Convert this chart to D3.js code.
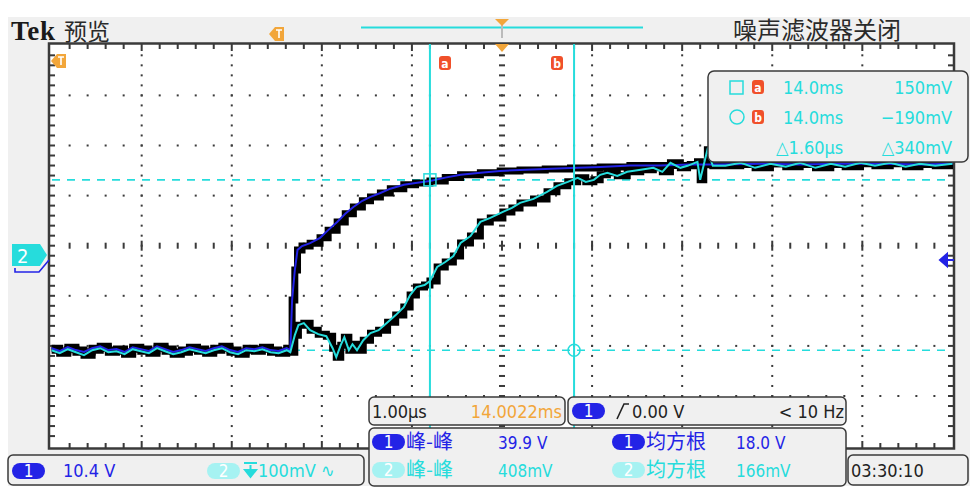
<!DOCTYPE html>
<html>
<head>
<meta charset="utf-8">
<script src="https://cdn.jsdelivr.net/npm/d3@7"></script>
<style>
  body { margin: 0; background: #fff; }
  text { font-family: "Liberation Sans Narrow", "DejaVu Sans Condensed", "Liberation Sans", sans-serif; }
  .cjk { font-family: "Noto Sans CJK SC", sans-serif; }
</style>
</head>
<body>
<svg id="scope" width="970" height="494"></svg>
<script>
// ---- data (time in µs from trigger, ch1 in V, ch2 in mV) ----
const baseTimes = [-5.00, -4.91, -4.82, -4.73, -4.64, -4.55, -4.46, -4.37, -4.28, -4.19,
  -4.10, -4.01, -3.92, -3.83, -3.74, -3.65, -3.56, -3.47, -3.38, -3.29,
  -3.20, -3.11, -3.02, -2.93, -2.84, -2.75, -2.66, -2.57, -2.48, -2.39];
const ch1Base = [-18.3, -18.9, -18.1, -18.7, -19.1, -18.3, -17.9, -18.7, -18.5, -19.1,
  -18.1, -18.5, -18.9, -17.9, -18.5, -19.1, -18.7, -18.1, -18.5, -18.9,
  -18.3, -17.9, -18.7, -19.1, -18.3, -18.5, -18.1, -18.7, -18.9, -18.3];
const ch2Base = [-190, -196, -188, -194, -200, -190, -186, -194, -192, -198,
  -188, -192, -196, -186, -192, -198, -194, -188, -192, -196,
  -190, -186, -194, -198, -190, -192, -188, -194, -196, -190];
const ch1Edge = [[-2.35, -18.7], [-2.33, -8.3], [-2.30, -2.1], [-2.27, 2.1], [-2.22, 2.9],
  [-2.13, 3.5], [-2.02, 4.6], [-1.93, 6.2], [-1.83, 7.9], [-1.74, 9.6], [-1.65, 11.0],
  [-1.55, 12.3], [-1.46, 13.1], [-1.35, 13.9], [-1.24, 14.8], [-1.09, 15.6], [-0.96, 16.0],
  [-0.80, 16.4], [-0.63, 17.1], [-0.46, 17.7], [-0.24, 18.1], [-0.02, 18.5], [0.20, 18.7],
  [0.48, 18.9], [0.76, 19.1], [1.09, 19.3], [1.42, 19.6], [1.76, 19.6], [2.09, 19.8],
  [2.42, 19.8], [2.87, 20.0], [3.31, 19.8], [3.76, 20.0], [4.20, 20.0], [4.64, 19.8], [5.00, 20.0]];
const ch2Edge = [[-2.35, -194], [-2.30, -160], [-2.26, -140], [-2.20, -136], [-2.13, -150],
  [-2.04, -158], [-1.95, -162], [-1.88, -186], [-1.84, -204], [-1.79, -180], [-1.75, -164],
  [-1.70, -190], [-1.66, -178], [-1.61, -190], [-1.54, -170], [-1.46, -156], [-1.37, -150],
  [-1.27, -134], [-1.18, -120], [-1.09, -104], [-1.02, -80], [-0.95, -64], [-0.86, -60],
  [-0.80, -52], [-0.72, -24], [-0.63, -14], [-0.54, -2], [-0.46, 24], [-0.35, 38],
  [-0.24, 66], [-0.13, 74], [0.01, 86], [0.11, 94], [0.20, 104], [0.35, 112], [0.50, 126],
  [0.61, 138], [0.73, 146], [0.84, 154], [0.93, 146], [1.02, 150], [1.09, 160], [1.17, 164],
  [1.28, 158], [1.39, 166], [1.54, 170], [1.68, 174], [1.78, 166], [1.87, 184], [1.98, 174],
  [2.06, 178], [2.17, 186], [2.20, 150], [2.24, 180], [2.28, 210], [2.34, 178], [2.48, 178],
  [2.65, 184], [2.81, 174], [2.98, 182], [3.15, 176], [3.31, 184], [3.48, 174], [3.65, 182],
  [3.81, 176], [3.98, 184], [4.14, 178], [4.31, 184], [4.48, 176], [4.64, 182], [4.81, 178], [5.00, 182]];
const cursorTimes = [-0.8, 0.8];
const cursorLevels = [150, -190];
const readoutTimes = ["14.0ms", "14.0ms", "\u25B31.60\u00B5s"];
const readoutLevels = ["150mV", "\u2212190mV", "\u25B3340mV"];
const measureNames = ["峰-峰", "均方根"];
const ch1Measures = ["39.9 V", "18.0 V"];
const ch2Measures = ["408mV", "166mV"];

const blue = "#2323e6", cyan = "#26dcdc", pale = "#a6f2f2", orange = "#f2a63a",
      red = "#f0502a", ink = "#3a3a3a", panel = "#f0f0f0";

const svg = d3.select("#scope");

// time and division scales
const x = d3.scaleLinear().domain([-5, 5]).range([51.6, 952.4]);
const yDiv = d3.scaleLinear().domain([-4, 4]).range([446.1, 45.3]);
const y1 = d3.scaleLinear().domain([0, 10.4]).range([260, 260 - 50.1]);
const y2 = d3.scaleLinear().domain([0, 100]).range([255, 255 - 50.1]);

// screen background
svg.append("rect").attr("x", 8).attr("y", 17).attr("width", 962).attr("height", 469).attr("fill", panel);
svg.append("rect").attr("x", 49).attr("y", 43.5).attr("width", 905).attr("height", 405).attr("fill", "#fff");

// graticule
const grid = svg.append("g").attr("fill", ink);
const subX = d3.range(1, 50).map(i => -5 + i / 5);
const subY = d3.range(1, 40).map(j => -4 + j / 5);
const isMajor = d => Math.abs(d - Math.round(d)) < 1e-6;
[-4, -3, -2, -1, 1, 2, 3, 4].forEach(k => {
  grid.selectAll(null).data(subY).join("rect")
    .attr("x", x(k) - 1).attr("y", d => yDiv(d) - 1).attr("width", 2).attr("height", 2);
});
[-3, -2, -1, 1, 2, 3].forEach(k => {
  grid.selectAll(null).data(subX).join("rect")
    .attr("x", d => x(d) - 1).attr("y", yDiv(k) - 1).attr("width", 2).attr("height", 2);
});
// centre cross ticks
grid.selectAll(null).data(subX).join("rect")
  .attr("x", d => x(d) - 1).attr("y", d => yDiv(0) - (isMajor(d) ? 5 : 3))
  .attr("width", 2).attr("height", d => isMajor(d) ? 10 : 6);
grid.selectAll(null).data(subY).join("rect")
  .attr("x", x(0) - 3).attr("y", d => yDiv(d) - 1).attr("width", 6).attr("height", 2);
// border ticks
grid.selectAll(null).data(subX).join("rect")
  .attr("x", d => x(d) - 1).attr("y", 44).attr("width", 2).attr("height", d => isMajor(d) ? 7 : 5);
grid.selectAll(null).data(subX).join("rect")
  .attr("x", d => x(d) - 1).attr("y", d => isMajor(d) ? 441 : 443).attr("width", 2).attr("height", d => isMajor(d) ? 7 : 5);
grid.selectAll(null).data(subY).join("rect")
  .attr("x", 50).attr("y", d => yDiv(d) - 1).attr("width", 5).attr("height", 2);
grid.selectAll(null).data(subY).join("rect")
  .attr("x", 948).attr("y", d => yDiv(d) - 1).attr("width", 5).attr("height", 2);
svg.append("rect").attr("x", 49).attr("y", 43.5).attr("width", 905).attr("height", 405)
  .attr("fill", "none").attr("stroke", ink).attr("stroke-width", 2.5);

// cursors
svg.append("g").selectAll("line").data(cursorLevels).join("line")
  .attr("x1", 52).attr("x2", 952).attr("y1", d => y2(d)).attr("y2", d => y2(d))
  .attr("stroke", cyan).attr("stroke-width", 1.6).attr("stroke-dasharray", "8,7");

// traces
svg.append("clipPath").attr("id", "screen").append("rect")
  .attr("x", 50).attr("y", 44).attr("width", 903).attr("height", 404);
const traces = svg.append("g").attr("clip-path", "url(#screen)").attr("fill", "none")
  .attr("stroke-linejoin", "miter");
const ch1 = baseTimes.map((t, i) => [t, ch1Base[i]]).concat(ch1Edge);
const ch2 = baseTimes.map((t, i) => [t, ch2Base[i]]).concat(ch2Edge);
const line1 = d3.line().x(d => x(d[0])).y(d => y1(d[1])).curve(d3.curveStepAfter);
const line2 = d3.line().x(d => x(d[0])).y(d => y2(d[1])).curve(d3.curveStepAfter);
const thin1 = d3.line().x(d => x(d[0])).y(d => y1(d[1]));
const thin2 = d3.line().x(d => x(d[0])).y(d => y2(d[1]));
traces.append("path").attr("d", line1(ch1)).attr("stroke", "#000").attr("stroke-width", 7);
traces.append("path").attr("d", line2(ch2)).attr("stroke", "#000").attr("stroke-width", 7);
traces.append("path").attr("d", thin1(ch1)).attr("stroke", blue).attr("stroke-width", 2);
traces.append("path").attr("d", thin2(ch2)).attr("stroke", cyan).attr("stroke-width", 2);

svg.append("g").selectAll("line").data(cursorTimes).join("line")
  .attr("x1", d => x(d)).attr("x2", d => x(d)).attr("y1", 44).attr("y2", 448)
  .attr("stroke", cyan).attr("stroke-width", 2);
svg.append("rect").attr("x", x(cursorTimes[0]) - 6).attr("y", y2(cursorLevels[0]) - 6)
  .attr("width", 12).attr("height", 12).attr("fill", "none").attr("stroke", cyan).attr("stroke-width", 1.5);
svg.append("circle").attr("cx", x(cursorTimes[1])).attr("cy", y2(cursorLevels[1])).attr("r", 6)
  .attr("fill", "none").attr("stroke", cyan).attr("stroke-width", 1.5);

// cursor tags a / b
function tag(g, cx, cy, letter) {
  g.append("rect").attr("x", cx - 6).attr("y", cy - 7).attr("width", 12).attr("height", 14)
    .attr("rx", 3).attr("fill", red);
  g.append("text").attr("x", cx).attr("y", cy + 4.5).attr("text-anchor", "middle")
    .attr("font-size", 12).attr("font-weight", "bold").attr("fill", "#fff").text(letter);
}
tag(svg, 445, 63, "a");
tag(svg, 557, 63, "b");

// trigger markers
svg.append("path").attr("d", `M${x(0) - 7},44 L${x(0) + 7},44 L${x(0)},52 Z`).attr("fill", orange);
svg.append("line").attr("x1", 361).attr("x2", 643).attr("y1", 27.5).attr("y2", 27.5)
  .attr("stroke", cyan).attr("stroke-width", 2);
svg.append("line").attr("x1", x(0)).attr("x2", x(0)).attr("y1", 22).attr("y2", 38)
  .attr("stroke", "#bbb").attr("stroke-width", 2);
svg.append("path").attr("d", `M${x(0) - 7},19 L${x(0) + 7},19 L${x(0)},26 Z`).attr("fill", orange);
function flag(g, fx, fy) {
  g.append("path").attr("d", `M${fx},${fy} l6,-7 h9 v14 h-9 Z`).attr("fill", orange);
  g.append("path").attr("d", `M${fx + 7},${fy - 4} h6 M${fx + 10},${fy - 4} v8`)
    .attr("stroke", "#fff").attr("stroke-width", 1.6);
}
flag(svg, 269, 34);
flag(svg, 51, 61);

// channel markers
svg.append("path").attr("d", "M12,244 H40 L47,255 L40,266 H12 Z").attr("fill", cyan);
svg.append("text").attr("x", 17).attr("y", 263).attr("font-size", 20).attr("fill", "#fff").text("2");
svg.append("path").attr("d", "M15,268 V272 H39 L49,260").attr("fill", "none")
  .attr("stroke", blue).attr("stroke-width", 1.6);
svg.append("path").attr("d", "M940,260 L947,254 L947,266 Z M945,260 H954").attr("fill", blue)
  .attr("stroke", blue).attr("stroke-width", 2);

// header texts
svg.append("text").attr("x", 11).attr("y", 40).attr("font-size", 27).attr("font-weight", "bold")
  .attr("textLength", 44).style("font-family", "'Liberation Serif', 'DejaVu Serif', serif")
  .attr("fill", "#1a1a1a").text("Tek");
svg.append("text").attr("class", "cjk").attr("x", 64).attr("y", 40).attr("font-size", 23)
  .attr("fill", "#2a2a2a").text("预览");
svg.append("text").attr("class", "cjk").attr("x", 733).attr("y", 39).attr("font-size", 24)
  .attr("fill", "#2a2a2a").text("噪声滤波器关闭");

// cursor readout box
const box = svg.append("g");
box.append("rect").attr("x", 708).attr("y", 71).attr("width", 260).attr("height", 91).attr("rx", 6)
  .attr("fill", panel).attr("stroke", ink).attr("stroke-width", 1.5);
box.append("rect").attr("x", 730).attr("y", 81).attr("width", 13).attr("height", 13)
  .attr("fill", "none").attr("stroke", cyan).attr("stroke-width", 1.5);
box.append("circle").attr("cx", 737).attr("cy", 117).attr("r", 7)
  .attr("fill", "none").attr("stroke", cyan).attr("stroke-width", 1.5);
tag(box, 758, 87, "a");
tag(box, 758, 117, "b");
box.selectAll(null).data(readoutTimes).join("text")
  .attr("x", (d, i) => i === 2 ? 776 : 783).attr("y", (d, i) => 94 + i * 30)
  .attr("font-size", 18).attr("fill", cyan).text(d => d);
box.selectAll(null).data(readoutLevels).join("text")
  .attr("x", 952).attr("y", (d, i) => 94 + i * 30).attr("text-anchor", "end")
  .attr("font-size", 18).attr("fill", cyan).text(d => d);

// bottom panels
function panelBox(px, py, w, h) {
  svg.append("rect").attr("x", px).attr("y", py).attr("width", w).attr("height", h).attr("rx", 5)
    .attr("fill", panel).attr("stroke", ink).attr("stroke-width", 1.5);
}
function pill(px, py, label, fill) {
  svg.append("rect").attr("x", px).attr("y", py - 8).attr("width", 33).attr("height", 16)
    .attr("rx", 8).attr("fill", fill);
  svg.append("text").attr("x", px + 16.5).attr("y", py + 6).attr("text-anchor", "middle")
    .attr("font-size", 17).attr("fill", "#fff").text(label);
}
panelBox(8, 455, 356, 30);
panelBox(369, 397, 196, 28);
panelBox(568, 397, 278, 28);
panelBox(369, 428, 477, 58);
panelBox(848, 455, 120, 30);

pill(12, 471, "1", blue);
svg.append("text").attr("x", 63).attr("y", 477).attr("font-size", 18).attr("fill", blue).text("10.4 V");
pill(207, 471, "2", pale);
svg.append("path").attr("d", "M244,463 h13 M250.5,465 v8 M245,470 l5.5,7 l5.5,-7 Z")
  .attr("fill", cyan).attr("stroke", cyan).attr("stroke-width", 2);
svg.append("text").attr("x", 258).attr("y", 477).attr("font-size", 18).attr("fill", cyan).text("100mV \u223F");

svg.append("text").attr("x", 372).attr("y", 418).attr("font-size", 18).attr("fill", "#222").text("1.00\u00B5s");
svg.append("text").attr("x", 562).attr("y", 418).attr("text-anchor", "end").attr("font-size", 18)
  .attr("fill", orange).text("14.0022ms");

pill(572, 411, "1", blue);
svg.append("path").attr("d", "M617,419 L624,404 H629").attr("fill", "none").attr("stroke", "#222").attr("stroke-width", 1.6);
svg.append("text").attr("x", 632).attr("y", 418).attr("font-size", 18).attr("fill", "#222").text("0.00 V");
svg.append("text").attr("x", 844).attr("y", 418).attr("text-anchor", "end").attr("font-size", 18)
  .attr("fill", "#222").text("< 10 Hz");

[[ch1Measures, blue, blue], [ch2Measures, pale, cyan]].forEach(([vals, pillFill, col], r) => {
  const cy = 442 + r * 28;
  pill(372, cy, String(r + 1), pillFill);
  pill(612, cy, String(r + 1), pillFill);
  svg.append("text").attr("class", "cjk").attr("x", 406).attr("y", cy + 7).attr("font-size", 20)
    .attr("fill", col).text(measureNames[0]);
  svg.append("text").attr("class", "cjk").attr("x", 646).attr("y", cy + 7).attr("font-size", 20)
    .attr("fill", col).text(measureNames[1]);
  svg.append("text").attr("x", 498).attr("y", cy + 7).attr("font-size", 17).attr("fill", col).text(vals[0]);
  svg.append("text").attr("x", 736).attr("y", cy + 7).attr("font-size", 17).attr("fill", col).text(vals[1]);
});

svg.append("text").attr("x", 851).attr("y", 477).attr("font-size", 18).attr("fill", "#222").text("03:30:10");
</script>
</body>
</html>
